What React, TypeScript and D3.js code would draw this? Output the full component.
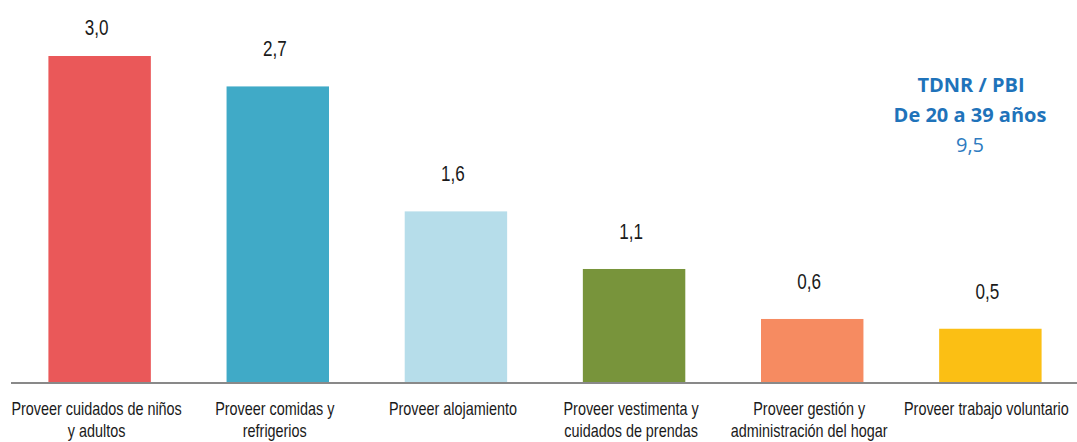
import React from "react";
import * as d3 from "d3";

const categories: string[][] = [
  ["Proveer cuidados de niños", "y adultos"],
  ["Proveer comidas y", "refrigerios"],
  ["Proveer alojamiento"],
  ["Proveer vestimenta y", "cuidados de prendas"],
  ["Proveer gestión y", "administración del hogar"],
  ["Proveer trabajo voluntario"],
];
const values: number[] = [3.0, 2.72, 1.57, 1.04, 0.58, 0.49];
const valueLabels: string[] = ["3,0", "2,7", "1,6", "1,1", "0,6", "0,5"];
const colors: string[] = ["#EA5859", "#40AAC7", "#B6DDEA", "#78943B", "#F68B61", "#FBBF14"];
const annotation: string[] = ["TDNR / PBI", "De 20 a 39 años"];
const annotationValue = "9,5";

const W = 1077;
const H = 442;
const sans = "'Liberation Sans', Arial, sans-serif";

export default function App() {
  const keys = categories.map((_, i) => String(i));
  const x = d3.scaleBand<string>().domain(keys).range([11, 1079]).paddingInner(0.425).paddingOuter(0.21);
  const y = d3.scaleLinear().domain([0, 3.0]).range([382, 56]);
  const bw = x.bandwidth();
  const cx = (i: number) => x(keys[i])! + bw / 2;

  return (
    <svg width={W} height={H} style={{ position: "fixed", left: 0, top: 0, background: "#fff" }}>
      {values.map((v, i) => (
        <rect key={"b" + i} x={x(keys[i])!} y={y(v)} width={bw} height={y(0) - y(v)} fill={colors[i]} />
      ))}
      <line x1={11} x2={W} y1={383} y2={383} stroke="#898989" strokeWidth={2} />
      {values.map((v, i) => (
        <g key={"v" + i} transform={`translate(${cx(i) - 3},${Math.max(35, y(v) - 30)}) scale(0.76,1)`}>
          <text textAnchor="middle" fontFamily={sans} fontSize={22.5} fill="#1a1a1a">
            {valueLabels[i]}
          </text>
        </g>
      ))}
      {categories.map((lines, i) => (
        <g key={"c" + i} transform={`translate(${cx(i) - 3 - (i === 5 ? 1 : 0)},0) scale(0.8,1)`}>
          <text textAnchor="middle" fontFamily={sans} fontSize={18} fill="#1a1a1a">
            {lines.map((l, j) => (
              <tspan key={j} x={0} y={415 + j * 22}>
                {l}
              </tspan>
            ))}
          </text>
        </g>
      ))}
      <text textAnchor="middle" fontFamily="'Open Sans', 'Noto Sans', sans-serif" fill="#1F73BA">
        <tspan x={971} y={92} fontWeight="bold" fontSize={20}>{annotation[0]}</tspan>
        <tspan x={970} y={122} fontWeight="bold" fontSize={20}>{annotation[1]}</tspan>
        <tspan x={970} y={152} fontSize={20} fill="#2E7BC0">{annotationValue}</tspan>
      </text>
    </svg>
  );
}
